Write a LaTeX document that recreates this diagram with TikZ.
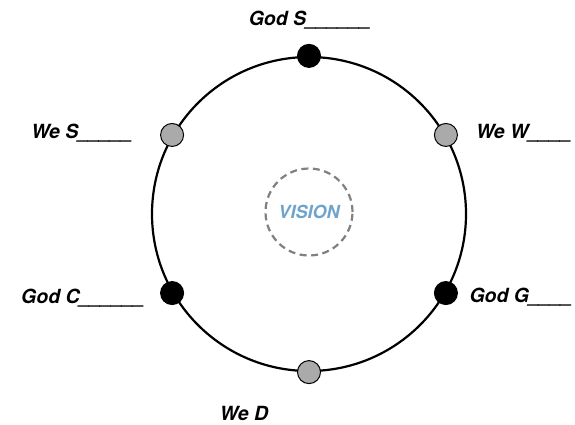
\documentclass[tikz,border=0pt]{standalone}
\usepackage{fontspec}
\setmainfont{TeX Gyre Heros}
\usepackage{tikz}
\definecolor{visionblue}{RGB}{110,163,204}
\definecolor{dotgrey}{RGB}{170,170,170}
\tikzset{ring/.style = {shape = circle, draw, line width = 2.2pt, minimum size = 314pt, inner sep = 0pt}}
\tikzset{god/.style = {shape = circle, draw, line width = 1pt, fill = black, minimum size = 23pt, inner sep = 0pt}}
\tikzset{we/.style = {shape = circle, draw, line width = 1pt, fill = dotgrey, minimum size = 23pt, inner sep = 0pt}}
\tikzset{label/.style = {font = \fontsize{19.5}{22}\selectfont\bfseries\itshape, inner sep = 0pt}}

\begin{document}
\begin{tikzpicture}[x = 1pt, y = -1pt]
				\useasboundingbox (0, 0) rectangle (575, 425);

				\node[ring] (ring) at (309, 214) {};
				\node[shape = circle, draw = gray, dash pattern = on 7pt off 4.5pt, line width = 2.2pt,
					minimum size = 87pt, inner sep = 0pt,
					font = \fontsize{18}{20}\selectfont\bfseries\itshape, text = visionblue] (vision) at (309, 212) {VISION};

				\node[god] (gs) at (ring.90) {};
				\node[we] (ww) at (ring.30) {};
				\node[we] (ws) at (ring.150) {};
				\node[god] (gc) at (ring.210) {};
				\node[god] (gg) at (ring.330) {};
				\node[we] (wd) at (ring.270) {};

				\node[label] (gslabel) at (310, 20) {God S\_\_\_\_\_\_};
				\node[label] (wslabel) at (82, 133) {We S\_\_\_\_\_};
				\node[label] (wwlabel) at (524, 133) {We W\_\_\_\_};
				\node[label] (gclabel) at (83, 298) {God C\_\_\_\_\_\_};
				\node[label] (gglabel) at (521, 297) {God G\_\_\_\_};
				\node[label] (wdlabel) at (244, 413) {We D};
			\end{tikzpicture}
\end{document}
